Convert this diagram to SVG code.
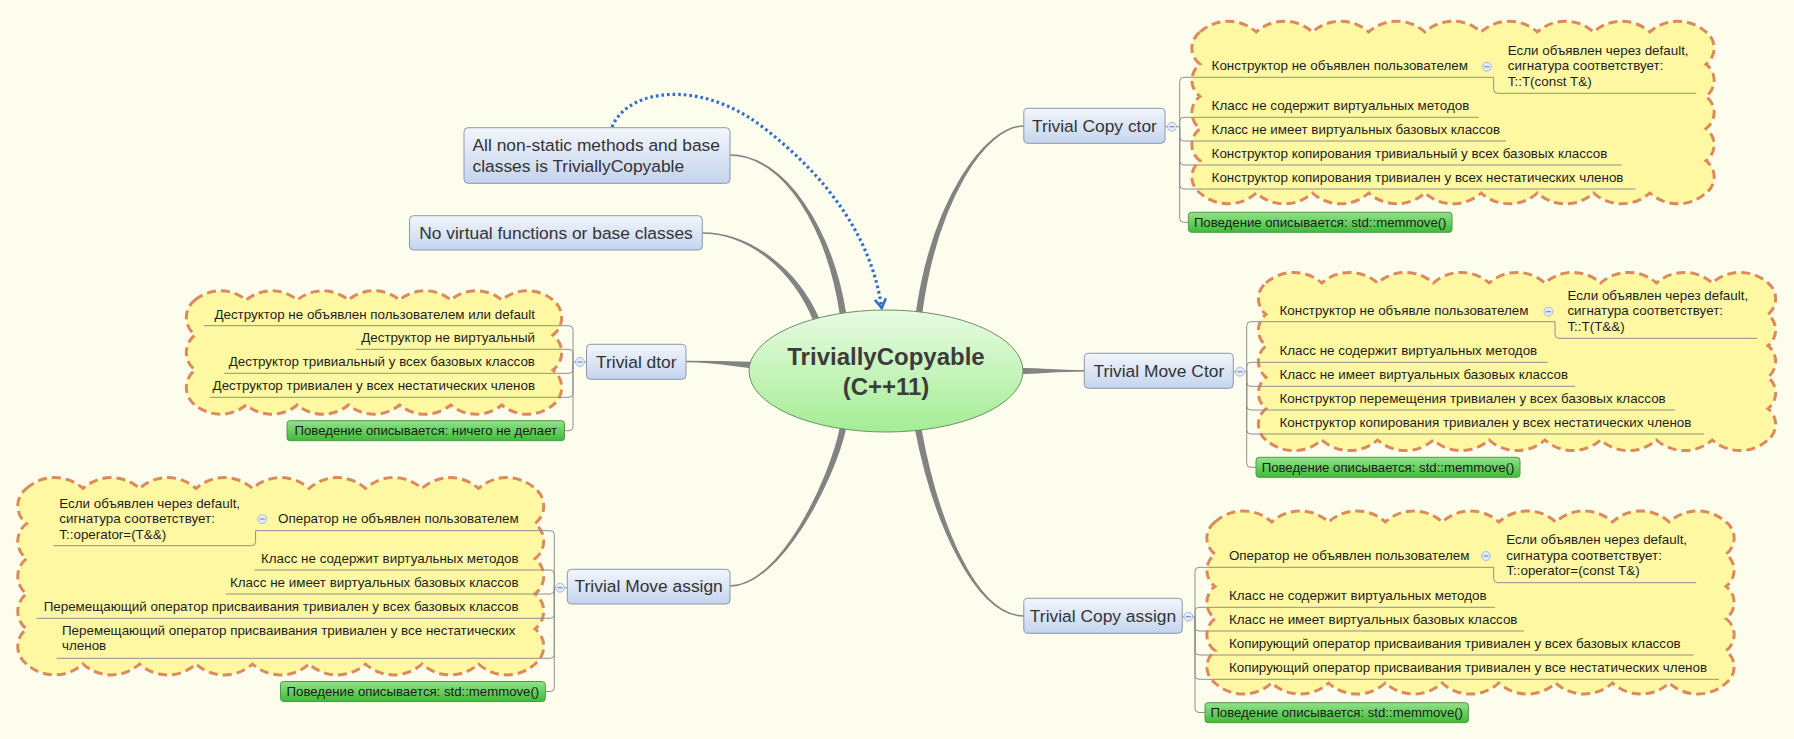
<svg xmlns="http://www.w3.org/2000/svg" xmlns:xlink="http://www.w3.org/1999/xlink" width="1794" height="739" viewBox="0 0 1794 739">
<defs>
<linearGradient id="gBox" x1="0" y1="0" x2="0" y2="1"><stop offset="0" stop-color="#f3f6fc"/><stop offset="1" stop-color="#c4d4ee"/></linearGradient>
<linearGradient id="gGrn" x1="0" y1="0" x2="0" y2="1"><stop offset="0" stop-color="#93e28c"/><stop offset="1" stop-color="#3fbb38"/></linearGradient>
<linearGradient id="gEll" x1="0" y1="0" x2="0" y2="1"><stop offset="0" stop-color="#e8fbe2"/><stop offset="1" stop-color="#a4ed95"/></linearGradient>
<marker id="arr" markerUnits="userSpaceOnUse" viewBox="0 0 14 14" refX="12" refY="7" markerWidth="14" markerHeight="14" orient="auto"><path d="M3,1.5 L12,7 L3,12.5" fill="none" stroke="#2f6fd0" stroke-width="2.6"/></marker>
<g id="col"><circle r="4.5" fill="#e4ebf8" stroke="#a9bbdd" stroke-width="1"/><path d="M-2.5,0 H2.5" stroke="#7590c8" stroke-width="1.2"/></g>
</defs>
<style>
.cloud{fill:#fff8a2;stroke:#dc8a5c;stroke-width:3;stroke-dasharray:9 5}
.br{fill:none;stroke:#8f8f8f;stroke-width:1}
.conn{fill:#838383;stroke:#838383;stroke-width:1.5;stroke-linejoin:round}
.box{fill:url(#gBox);stroke:#8c98aa;stroke-width:1}
.grn{fill:url(#gGrn);stroke:#4f9a45;stroke-width:1}
.btxt{font-family:"Liberation Sans",Arial,sans-serif;font-size:17.4px;fill:#333}
.itm{font-family:"Liberation Sans",Arial,sans-serif;font-size:13.4px;fill:#1e1e1e}
.gtxt{font-family:"Liberation Sans",Arial,sans-serif;font-size:13.2px;fill:#1a1a1a;text-anchor:middle}
.end{text-anchor:end}
.mid{text-anchor:middle}
.ctr{font-family:"Liberation Sans",Arial,sans-serif;font-size:24px;font-weight:bold;fill:#3c3c3c;text-anchor:middle}
</style>
<rect width="1794" height="739" fill="#fdfdee"/>

<g id="connectors">
<path class="conn" d="M730,155 C785,155 832,229.7 845.5,313.6 L840.5,314.4 C828,230.3 785,155 730,155Z"/>
<path class="conn" d="M702,233 C750,233 796.9,269.3 818.3,318.1 L813.7,319.9 C793.1,270.7 750,233 702,233Z"/>
<path class="conn" d="M1024,126 C985,126 937,200.3 921.5,313.3 L916.5,312.7 C933,199.7 985,126 1024,126Z"/>
<path class="conn" d="M686,361.5 C715,361.5 734.9,366 751.8,367.5 L752.2,362.5 C735.1,362 715,361.5 686,361.5Z"/>
<path class="conn" d="M1084.3,370.7 C1060,370.7 1040,373 1020,373.5 L1020,368.5 C1040,369 1060,370.7 1084.3,370.7Z"/>
<path class="conn" d="M730,586 C780,586 834,480.4 845.4,428.6 L840.6,427.4 C830,479.6 780,586 730,586Z"/>
<path class="conn" d="M1024,616 C975,616 937,519.6 920.5,427.6 L915.5,428.4 C933,520.4 975,616 1024,616Z"/>
<path d="M612,127 C628,88 700,80 760,125 C830,178 872,240 881.7,308" fill="none" stroke="#2f6fd0" stroke-width="3.2" stroke-dasharray="2.6 3" marker-end="url(#arr)"/>
</g>

<g id="center">
<ellipse cx="886" cy="371" rx="137" ry="61" fill="url(#gEll)" stroke="#6f8f66" stroke-width="1"/>
<text class="ctr" x="886" y="365">TriviallyCopyable</text>
<text class="ctr" x="886" y="395">(C++11)</text>
</g>

<g id="node-all-nonstatic">
<rect class="box" x="464" y="127.7" width="266" height="55.6" rx="4"/>
<text class="btxt" x="472.5" y="150.7">All non-static methods and base</text>
<text class="btxt" x="472.5" y="171.7">classes is TriviallyCopyable</text>
</g>

<g id="node-no-virtual">
<rect class="box" x="409.5" y="215.7" width="292.8" height="34.3" rx="4"/>
<text class="btxt mid" x="556" y="239">No virtual functions or base classes</text>
</g>

<g id="node-dtor">
<path class="cloud" d="M195,300 a40,40 0 0 1 51.14,0 a40,40 0 0 1 51.14,0 a40,40 0 0 1 51.14,0 a40,40 0 0 1 51.14,0 a40,40 0 0 1 51.14,0 a40,40 0 0 1 51.14,0 a40,40 0 0 1 51.16,0 a22,22 0 0 1 0,35 a22,22 0 0 1 0,35 a22,22 0 0 1 0,35 a40,40 0 0 1 -51.14,0 a40,40 0 0 1 -51.14,0 a40,40 0 0 1 -51.14,0 a40,40 0 0 1 -51.14,0 a40,40 0 0 1 -51.14,0 a40,40 0 0 1 -51.14,0 a40,40 0 0 1 -51.16,0 a22,22 0 0 1 0,-35 a22,22 0 0 1 0,-35 a22,22 0 0 1 0,-35Z"/>
<path class="br" d="M586.5,362 H573 M573,362 V329.7 Q573,325.7 569,325.7 H204 M573,362 V353.3 Q573,349.3 569,349.3 H356 M573,362 V369.3 Q573,373.3 569,373.3 H224 M573,362 V393.3 Q573,397.3 569,397.3 H210 M573,362 V426.7 Q573,430.7 569,430.7 H564.5"/>
<rect class="box" x="586.5" y="344.3" width="99.5" height="35" rx="4"/>
<text class="btxt mid" x="636.3" y="367.5">Trivial dtor</text>
<use xlink:href="#col" x="580" y="362"/>
<text class="itm end" x="535" y="318.5">Деструктор не объявлен пользователем или default</text>
<text class="itm end" x="535" y="342.3">Деструктор не виртуальный</text>
<text class="itm end" x="535" y="366.3">Деструктор тривиальный у всех базовых классов</text>
<text class="itm end" x="535" y="390.3">Деструктор тривиален у всех нестатических членов</text>
<rect class="grn" x="287" y="420.7" width="277.5" height="20" rx="3"/>
<text class="gtxt" x="425.8" y="435">Поведение описывается: ничего не делает</text>
</g>

<g id="node-copy-ctor">
<path class="cloud" d="M1200,32 a42,42 0 0 1 56.22,0 a42,42 0 0 1 56.22,0 a42,42 0 0 1 56.22,0 a42,42 0 0 1 56.22,0 a42,42 0 0 1 56.22,0 a42,42 0 0 1 56.22,0 a42,42 0 0 1 56.22,0 a42,42 0 0 1 56.22,0 a42,42 0 0 1 56.24,0 a20,20 0 0 1 0,32.2 a20,20 0 0 1 0,32.2 a20,20 0 0 1 0,32.2 a20,20 0 0 1 0,32.2 a20,20 0 0 1 0,32.2 a42,42 0 0 1 -56.22,0 a42,42 0 0 1 -56.22,0 a42,42 0 0 1 -56.22,0 a42,42 0 0 1 -56.22,0 a42,42 0 0 1 -56.22,0 a42,42 0 0 1 -56.22,0 a42,42 0 0 1 -56.22,0 a42,42 0 0 1 -56.22,0 a42,42 0 0 1 -56.24,0 a20,20 0 0 1 0,-32.2 a20,20 0 0 1 0,-32.2 a20,20 0 0 1 0,-32.2 a20,20 0 0 1 0,-32.2 a20,20 0 0 1 0,-32.2Z"/>
<path class="br" d="M1165,126.7 H1179.7 M1179.7,126.7 V81.3 Q1179.7,77.3 1183.7,77.3 H1493.7 V89.3 Q1493.7,93.3 1497.7,93.3 H1696.2 M1179.7,126.7 V121.3 Q1179.7,117.3 1183.7,117.3 H1478.5 M1179.7,126.7 V137 Q1179.7,141 1183.7,141 H1506 M1179.7,126.7 V161 Q1179.7,165 1183.7,165 H1621.8 M1179.7,126.7 V185 Q1179.7,189 1183.7,189 H1635.4 M1179.7,126.7 V218.3 Q1179.7,222.3 1183.7,222.3 H1188.4"/>
<rect class="box" x="1023.8" y="108.3" width="141.2" height="35" rx="4"/>
<text class="btxt mid" x="1094.4" y="131.7">Trivial Copy ctor</text>
<use xlink:href="#col" x="1172" y="126.7"/>
<use xlink:href="#col" x="1487" y="66.7"/>
<text class="itm" x="1211.6" y="70">Конструктор не объявлен пользователем</text>
<text class="itm" x="1211.6" y="110">Класс не содержит виртуальных методов</text>
<text class="itm" x="1211.6" y="133.7">Класс не имеет виртуальных базовых классов</text>
<text class="itm" x="1211.6" y="157.7">Конструктор копирования тривиальный у всех базовых классов</text>
<text class="itm" x="1211.6" y="181.7">Конструктор копирования тривиален у всех нестатических членов</text>
<text class="itm" x="1507.8" y="54.5">Если объявлен через default,</text>
<text class="itm" x="1507.8" y="70">сигнатура соответствует:</text>
<text class="itm" x="1507.8" y="85.5">T::T(const T&amp;)</text>
<rect class="grn" x="1188.4" y="212.3" width="263.6" height="20" rx="3"/>
<text class="gtxt" x="1320.2" y="226.8">Поведение описывается: std::memmove()</text>
</g>

<g id="node-move-ctor">
<path class="cloud" d="M1266,283 a42,42 0 0 1 55.78,0 a42,42 0 0 1 55.78,0 a42,42 0 0 1 55.78,0 a42,42 0 0 1 55.78,0 a42,42 0 0 1 55.78,0 a42,42 0 0 1 55.78,0 a42,42 0 0 1 55.78,0 a42,42 0 0 1 55.78,0 a42,42 0 0 1 55.76,0 a20,20 0 0 1 0,31.4 a20,20 0 0 1 0,31.4 a20,20 0 0 1 0,31.4 a20,20 0 0 1 0,31.4 a20,20 0 0 1 0,31.4 a42,42 0 0 1 -55.78,0 a42,42 0 0 1 -55.78,0 a42,42 0 0 1 -55.78,0 a42,42 0 0 1 -55.78,0 a42,42 0 0 1 -55.78,0 a42,42 0 0 1 -55.78,0 a42,42 0 0 1 -55.78,0 a42,42 0 0 1 -55.78,0 a42,42 0 0 1 -55.76,0 a20,20 0 0 1 0,-31.4 a20,20 0 0 1 0,-31.4 a20,20 0 0 1 0,-31.4 a20,20 0 0 1 0,-31.4 a20,20 0 0 1 0,-31.4Z"/>
<path class="br" d="M1233.3,371.7 H1246.7 M1246.7,371.7 V325.7 Q1246.7,321.7 1250.7,321.7 H1555 V334.3 Q1555,338.3 1559,338.3 H1757 M1246.7,371.7 V366.3 Q1246.7,362.3 1250.7,362.3 H1547.7 M1246.7,371.7 V382.3 Q1246.7,386.3 1250.7,386.3 H1575 M1246.7,371.7 V406 Q1246.7,410 1250.7,410 H1675 M1246.7,371.7 V430 Q1246.7,434 1250.7,434 H1704 M1246.7,371.7 V463.3 Q1246.7,467.3 1250.7,467.3 H1256"/>
<rect class="box" x="1084.3" y="353.3" width="149" height="35" rx="4"/>
<text class="btxt mid" x="1158.8" y="376.7">Trivial Move Ctor</text>
<use xlink:href="#col" x="1240" y="371.7"/>
<use xlink:href="#col" x="1548.5" y="311.7"/>
<text class="itm" x="1279.5" y="314.7">Конструктор не объявле пользователем</text>
<text class="itm" x="1279.5" y="355.3">Класс не содержит виртуальных методов</text>
<text class="itm" x="1279.5" y="379.3">Класс не имеет виртуальных базовых классов</text>
<text class="itm" x="1279.5" y="403">Конструктор перемещения тривиален у всех базовых классов</text>
<text class="itm" x="1279.5" y="427">Конструктор копирования тривиален у всех нестатических членов</text>
<text class="itm" x="1567.4" y="299.5">Если объявлен через default,</text>
<text class="itm" x="1567.4" y="315">сигнатура соответствует:</text>
<text class="itm" x="1567.4" y="330.5">T::T(T&amp;&amp;)</text>
<rect class="grn" x="1256" y="457.3" width="264" height="20" rx="3"/>
<text class="gtxt" x="1388" y="471.8">Поведение описывается: std::memmove()</text>
</g>

<g id="node-copy-assign">
<path class="cloud" d="M1215,522 a42,42 0 0 1 56.78,0 a42,42 0 0 1 56.78,0 a42,42 0 0 1 56.78,0 a42,42 0 0 1 56.78,0 a42,42 0 0 1 56.78,0 a42,42 0 0 1 56.78,0 a42,42 0 0 1 56.78,0 a42,42 0 0 1 56.78,0 a42,42 0 0 1 56.76,0 a20,20 0 0 1 0,32.2 a20,20 0 0 1 0,32.2 a20,20 0 0 1 0,32.2 a20,20 0 0 1 0,32.2 a20,20 0 0 1 0,32.2 a42,42 0 0 1 -56.78,0 a42,42 0 0 1 -56.78,0 a42,42 0 0 1 -56.78,0 a42,42 0 0 1 -56.78,0 a42,42 0 0 1 -56.78,0 a42,42 0 0 1 -56.78,0 a42,42 0 0 1 -56.78,0 a42,42 0 0 1 -56.78,0 a42,42 0 0 1 -56.76,0 a20,20 0 0 1 0,-32.2 a20,20 0 0 1 0,-32.2 a20,20 0 0 1 0,-32.2 a20,20 0 0 1 0,-32.2 a20,20 0 0 1 0,-32.2Z"/>
<path class="br" d="M1182.3,616.7 H1195 M1195,616.7 V571.3 Q1195,567.3 1199,567.3 H1493.7 V578.7 Q1493.7,582.7 1497.7,582.7 H1696.2 M1195,616.7 V611.3 Q1195,607.3 1199,607.3 H1495.2 M1195,616.7 V627 Q1195,631 1199,631 H1524 M1195,616.7 V651 Q1195,655 1199,655 H1693.7 M1195,616.7 V675.3 Q1195,679.3 1199,679.3 H1719 M1195,616.7 V708.5 Q1195,712.5 1199,712.5 H1205"/>
<rect class="box" x="1023.8" y="598.3" width="158.5" height="35" rx="4"/>
<text class="btxt mid" x="1103" y="621.7">Trivial Copy assign</text>
<use xlink:href="#col" x="1188.4" y="616.7"/>
<use xlink:href="#col" x="1486" y="556"/>
<text class="itm" x="1228.9" y="560">Оператор не объявлен пользователем</text>
<text class="itm" x="1228.9" y="600">Класс не содержит виртуальных методов</text>
<text class="itm" x="1228.9" y="623.7">Класс не имеет виртуальных базовых классов</text>
<text class="itm" x="1228.9" y="647.7">Копирующий оператор присваивания тривиален у всех базовых классов</text>
<text class="itm" x="1228.9" y="672">Копирующий оператор присваивания тривиален у все нестатических членов</text>
<text class="itm" x="1506.3" y="544">Если объявлен через default,</text>
<text class="itm" x="1506.3" y="559.5">сигнатура соответствует:</text>
<text class="itm" x="1506.3" y="575">T::operator=(const T&amp;)</text>
<rect class="grn" x="1205" y="702.7" width="263.4" height="20" rx="3"/>
<text class="gtxt" x="1336.7" y="717">Поведение описывается: std::memmove()</text>
</g>

<g id="node-move-assign">
<path class="cloud" d="M26.5,488.5 a42,42 0 0 1 56.5,0 a42,42 0 0 1 56.5,0 a42,42 0 0 1 56.5,0 a42,42 0 0 1 56.5,0 a42,42 0 0 1 56.5,0 a42,42 0 0 1 56.5,0 a42,42 0 0 1 56.5,0 a42,42 0 0 1 56.5,0 a42,42 0 0 1 56.5,0 a22,22 0 0 1 0,35.1 a22,22 0 0 1 0,35.1 a22,22 0 0 1 0,35.1 a22,22 0 0 1 0,35.1 a22,22 0 0 1 0,35.1 a42,42 0 0 1 -56.5,0 a42,42 0 0 1 -56.5,0 a42,42 0 0 1 -56.5,0 a42,42 0 0 1 -56.5,0 a42,42 0 0 1 -56.5,0 a42,42 0 0 1 -56.5,0 a42,42 0 0 1 -56.5,0 a42,42 0 0 1 -56.5,0 a42,42 0 0 1 -56.5,0 a22,22 0 0 1 0,-35.1 a22,22 0 0 1 0,-35.1 a22,22 0 0 1 0,-35.1 a22,22 0 0 1 0,-35.1 a22,22 0 0 1 0,-35.1Z"/>
<path class="br" d="M567.3,587.7 H554.3 M554.3,587.7 V534.7 Q554.3,530.7 550.3,530.7 H255.6 V541.7 Q255.6,545.7 251.6,545.7 H53.5 M554.3,587.7 V574 Q554.3,570 550.3,570 H254.5 M554.3,587.7 V590 Q554.3,594 550.3,594 H225.8 M554.3,587.7 V614.3 Q554.3,618.3 550.3,618.3 H36.5 M554.3,587.7 V654.3 Q554.3,658.3 550.3,658.3 H56.6 M554.3,587.7 V687.5 Q554.3,691.5 550.3,691.5 H545.3"/>
<rect class="box" x="567.3" y="569.3" width="162.7" height="34.7" rx="4"/>
<text class="btxt mid" x="648.7" y="591.7">Trivial Move assign</text>
<use xlink:href="#col" x="560" y="587.7"/>
<use xlink:href="#col" x="262.3" y="519"/>
<text class="itm end" x="518.6" y="523.4">Оператор не объявлен пользователем</text>
<text class="itm end" x="518.6" y="562.7">Класс не содержит виртуальных методов</text>
<text class="itm end" x="518.6" y="586.7">Класс не имеет виртуальных базовых классов</text>
<text class="itm end" x="518.6" y="611">Перемещающий оператор присваивания тривиален у всех базовых классов</text>
<text class="itm" x="62" y="635">Перемещающий оператор присваивания тривиален у все нестатических</text>
<text class="itm" x="62" y="650">членов</text>
<text class="itm" x="59.3" y="507.5">Если объявлен через default,</text>
<text class="itm" x="59.3" y="523">сигнатура соответствует:</text>
<text class="itm" x="59.3" y="538.5">T::operator=(T&amp;&amp;)</text>
<rect class="grn" x="280.5" y="681.5" width="264.8" height="20" rx="3"/>
<text class="gtxt" x="412.9" y="695.7">Поведение описывается: std::memmove()</text>
</g>
</svg>
